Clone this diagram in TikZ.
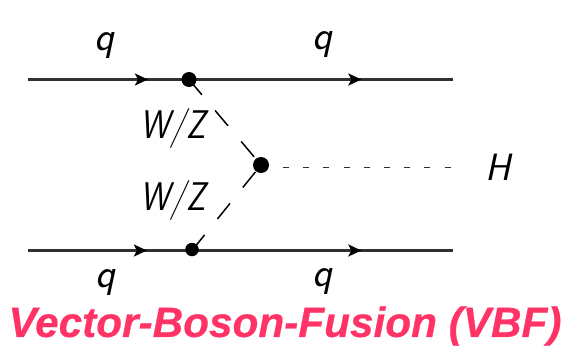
\documentclass[tikz,border=0pt]{standalone}
\usepackage{fontspec}
\setmainfont{Liberation Sans}
\usetikzlibrary{arrows.meta,decorations.markings}
\definecolor{titlepink}{HTML}{FF3366}
\definecolor{linegray}{HTML}{303030}
\tikzset{
  x=1pt,y=-1pt,
  vertex/.style={circle,fill=black,inner sep=0pt,minimum size=#1},
  fermion/.style={draw=linegray,line width=2.2pt,postaction={decorate},
    decoration={markings,mark=at position #1 with {\arrow[black]{Stealth[length=13pt,width=12pt,inset=3pt]}}}},
  boson/.style={draw=black,line width=1.5pt,dash pattern=on 20pt off 20.5pt},
  higgs/.style={draw=linegray,line width=1pt,dash pattern=on 6pt off 14.2pt},
  lbl/.style={font=\fontsize{41}{41}\sffamily\itshape,inner sep=0pt},
  wz/.style={font=\fontsize{40}{40}\sffamily\itshape,inner sep=0pt,xscale=0.84},
  titletext/.style={font=\fontsize{42.3}{42.3}\selectfont\bfseries\itshape\addfontfeature{FakeBold=0.5},text=titlepink,inner sep=0pt}
}
\begin{document}
\begin{tikzpicture}
\useasboundingbox (0,0) rectangle (562,350);
\coordinate (ta) at (28,79.5);
\coordinate (te) at (452.5,79.5);
\coordinate (ba) at (28,250.5);
\coordinate (be) at (452.5,250.5);
\coordinate (hs) at (283,167);
\coordinate (he) at (452.5,167);
\coordinate (vt) at (189,79.5);
\coordinate (vc) at (261,165);
\coordinate (vb) at (192,250.5);
\draw[fermion=0.745] (ta) -- (vt);
\draw[fermion=0.654] (vt) -- (te);
\draw[fermion=0.725] (ba) -- (vb);
\draw[fermion=0.65] (vb) -- (be);
\draw[boson] (vt) -- (vc);
\draw[boson] (vb) -- (vc);
\draw[higgs] (hs) -- (he);
\node[vertex=15pt] (nt) at (vt) {};
\node[vertex=16pt] (nc) at (vc) {};
\node[vertex=13.5pt] (nb) at (192,249.5) {};
\node[lbl] (q1) at (104,46) {q};
\node[lbl] (q2) at (322,45) {q};
\node[lbl] (q3) at (105,283) {q};
\node[lbl] (q4) at (322,282) {q};
\node[wz] (w1) at (173,129) {W/Z};
\node[wz] (w2) at (173,200) {W/Z};
\node[font=\fontsize{38}{38}\sffamily\itshape,inner sep=0pt] (h) at (498,167) {H};
\node[titletext] (title) at (285,326) {Vector-Boson-Fusion (VBF)};
\end{tikzpicture}
\end{document}
